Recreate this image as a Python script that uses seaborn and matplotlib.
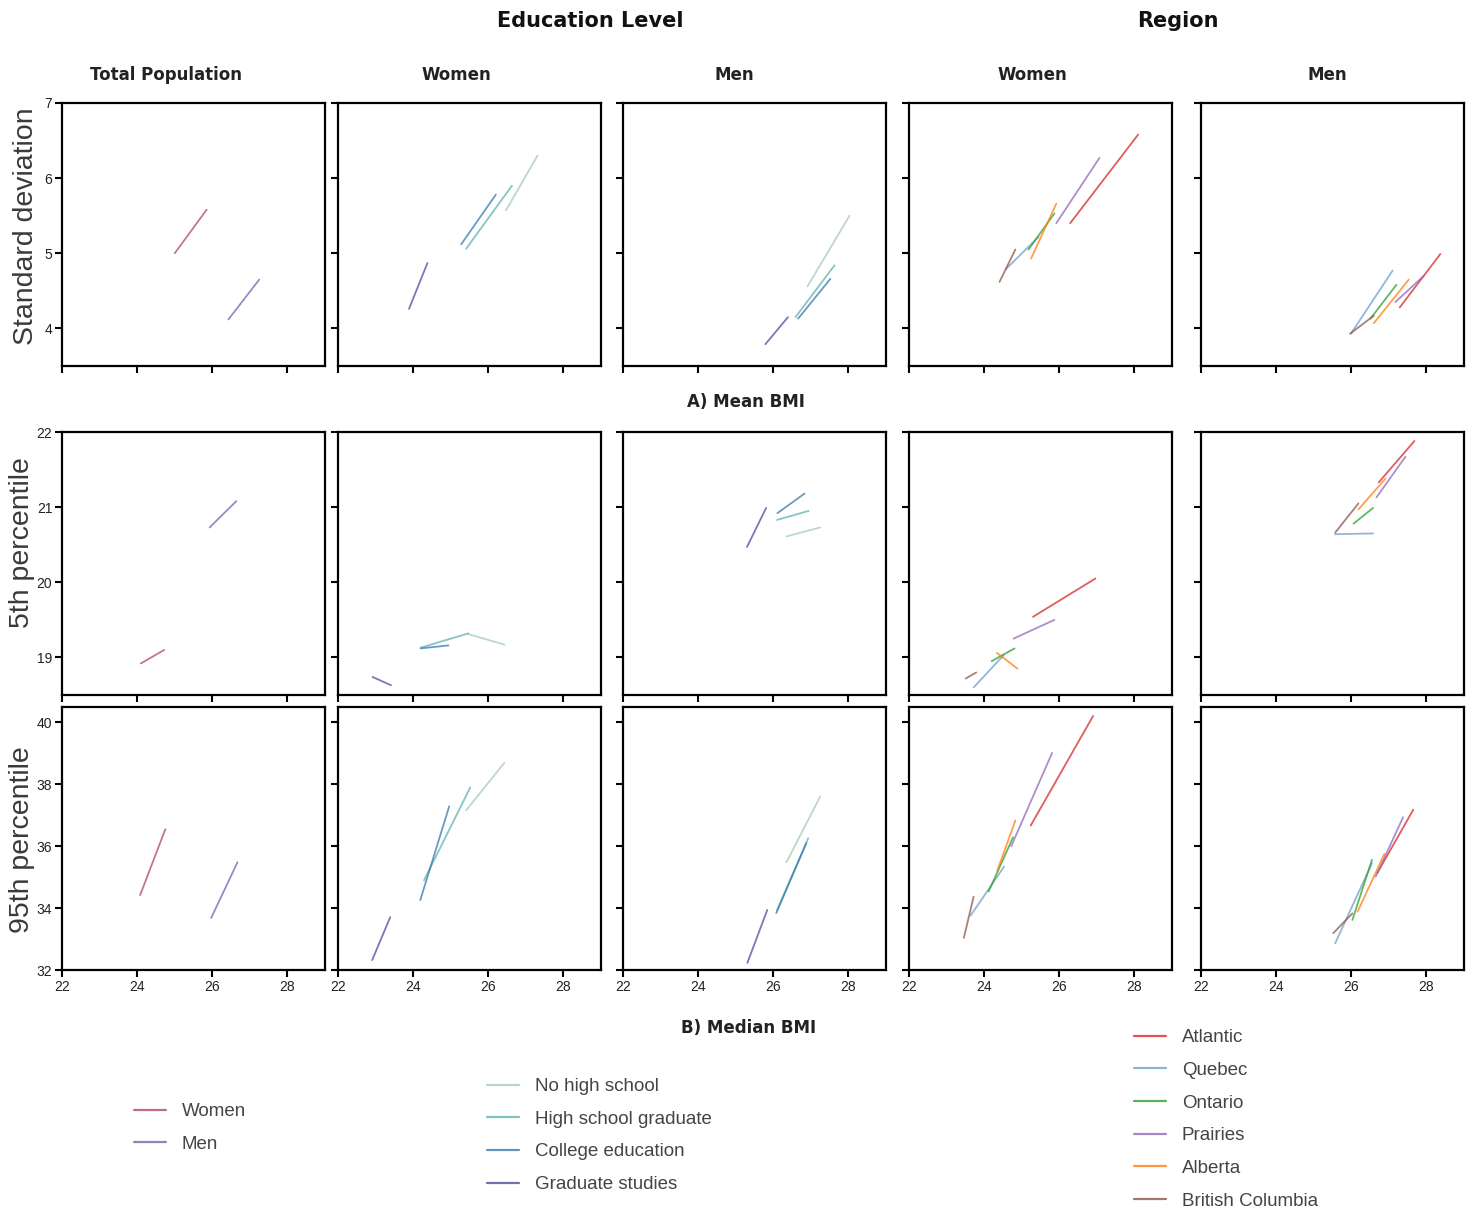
import pandas as pd
import matplotlib
matplotlib.use("Agg")
import matplotlib.pyplot as plt
from matplotlib.lines import Line2D
import seaborn as sns

# groups and colours
total_groups = ["Women", "Men"]
edu_groups = ["No high school", "High school graduate", "College education", "Graduate studies"]
region_groups = ["Atlantic", "Quebec", "Ontario", "Prairies", "Alberta", "British Columbia"]

total_colors = ["#b0476a", "#6b68b3"]
edu_colors = ["#a6cbb8", "#5fb1b2", "#3a78ad", "#4b4c9c"]
region_colors = ["#d62728", "#6f9fcb", "#2ca02c", "#9467bd", "#ff7f0e", "#8c564b"]

# each group: [start, end] of its segment, groups in the order above
# row 1: standard deviation vs mean BMI
sd_total_x = [[25.00, 25.85], [26.43, 27.25]]
sd_total_y = [[5.00, 5.58], [4.12, 4.65]]
sd_women_edu_x = [[26.47, 27.31], [25.41, 26.63], [25.28, 26.20], [23.89, 24.38]]
sd_women_edu_y = [[5.57, 6.30], [5.06, 5.90], [5.12, 5.78], [4.26, 4.87]]
sd_men_edu_x = [[26.91, 28.03], [26.59, 27.63], [26.66, 27.52], [25.79, 26.39]]
sd_men_edu_y = [[4.56, 5.50], [4.15, 4.84], [4.13, 4.66], [3.79, 4.15]]
sd_women_reg_x = [[26.29, 28.10], [24.58, 25.45], [25.18, 25.87], [25.92, 27.07], [25.25, 25.92], [24.41, 24.83]]
sd_women_reg_y = [[5.40, 6.58], [4.79, 5.22], [5.05, 5.53], [5.40, 6.27], [4.93, 5.66], [4.62, 5.05]]
sd_men_reg_x = [[27.29, 28.37], [25.99, 27.10], [26.51, 27.20], [27.17, 27.93], [26.60, 27.53], [25.97, 26.60]]
sd_men_reg_y = [[4.28, 4.99], [3.93, 4.77], [4.13, 4.58], [4.35, 4.70], [4.07, 4.65], [3.93, 4.17]]

# row 2: 5th percentile vs median BMI
p5_total_x = [[24.10, 24.72], [25.93, 26.64]]
p5_total_y = [[18.92, 19.10], [20.73, 21.08]]
p5_women_edu_x = [[25.47, 26.43], [24.20, 25.47], [24.20, 24.94], [22.92, 23.41]]
p5_women_edu_y = [[19.31, 19.17], [19.13, 19.32], [19.12, 19.16], [18.74, 18.63]]
p5_men_edu_x = [[26.35, 27.25], [26.10, 26.94], [26.11, 26.83], [25.30, 25.81]]
p5_men_edu_y = [[20.61, 20.73], [20.83, 20.95], [20.92, 21.18], [20.47, 20.99]]
p5_women_reg_x = [[25.30, 26.96], [23.72, 24.52], [24.20, 24.81], [24.78, 25.87], [24.34, 24.89], [23.51, 23.79]]
p5_women_reg_y = [[19.54, 20.05], [18.60, 19.03], [18.95, 19.12], [19.25, 19.50], [19.06, 18.85], [18.72, 18.80]]
p5_men_reg_x = [[26.73, 27.68], [25.57, 26.58], [26.06, 26.58], [26.67, 27.44], [26.19, 26.91], [25.57, 26.19]]
p5_men_reg_y = [[21.33, 21.88], [20.64, 20.65], [20.78, 20.99], [21.13, 21.67], [20.97, 21.38], [20.66, 21.05]]

# row 3: 95th percentile vs median BMI
p95_total_x = [[24.08, 24.75], [25.97, 26.67]]
p95_total_y = [[34.42, 36.55], [33.68, 35.48]]
p95_women_edu_x = [[25.41, 26.43], [24.29, 25.52], [24.19, 24.96], [22.91, 23.39]]
p95_women_edu_y = [[37.16, 38.70], [34.90, 37.90], [34.26, 37.29], [32.32, 33.71]]
p95_men_edu_x = [[26.35, 27.25], [26.10, 26.93], [26.08, 26.88], [25.31, 25.84]]
p95_men_edu_y = [[35.48, 37.61], [33.94, 36.26], [33.84, 36.10], [32.23, 33.94]]
p95_women_reg_x = [[25.24, 26.90], [23.64, 24.53], [24.12, 24.77], [24.72, 25.81], [24.35, 24.83], [23.46, 23.72]]
p95_women_reg_y = [[36.67, 40.21], [33.76, 35.34], [34.54, 36.29], [36.00, 39.02], [35.21, 36.83], [33.04, 34.37]]
p95_men_reg_x = [[26.69, 27.65], [25.57, 26.55], [26.03, 26.55], [26.65, 27.38], [26.17, 26.88], [25.52, 26.03]]
p95_men_reg_y = [[35.13, 37.18], [32.86, 35.45], [33.62, 35.56], [35.02, 36.94], [33.89, 35.75], [33.19, 33.83]]

row_labels = ["Standard deviation", "5th percentile", "95th percentile"]
row_ylims = [(3.5, 7), (18.5, 22), (32, 40.5)]
row_yticks = [[4, 5, 6, 7], [19, 20, 21, 22], [32, 34, 36, 38, 40]]
col_titles = ["Total Population", "Women", "Men", "Women", "Men"]

panels = [
    [(sd_total_x, sd_total_y), (sd_women_edu_x, sd_women_edu_y), (sd_men_edu_x, sd_men_edu_y),
     (sd_women_reg_x, sd_women_reg_y), (sd_men_reg_x, sd_men_reg_y)],
    [(p5_total_x, p5_total_y), (p5_women_edu_x, p5_women_edu_y), (p5_men_edu_x, p5_men_edu_y),
     (p5_women_reg_x, p5_women_reg_y), (p5_men_reg_x, p5_men_reg_y)],
    [(p95_total_x, p95_total_y), (p95_women_edu_x, p95_women_edu_y), (p95_men_edu_x, p95_men_edu_y),
     (p95_women_reg_x, p95_women_reg_y), (p95_men_reg_x, p95_men_reg_y)],
]
col_groups = [total_groups, edu_groups, edu_groups, region_groups, region_groups]
col_colors = [total_colors, edu_colors, edu_colors, region_colors, region_colors]

sns.set_style("ticks")
plt.rcParams['font.family'] = ['Liberation Sans', 'DejaVu Sans']

W, H = 1473, 1209
fig = plt.figure(figsize=(W / 100, H / 100), dpi=100)


def fx(x):
    return x / W


def fy(y):
    return 1 - y / H


col_left = [62, 338, 623, 909, 1201]
row_top = [103, 432, 707]
size = 263

for r in range(3):
    for c in range(5):
        ax = fig.add_axes([fx(col_left[c]), fy(row_top[r] + size), size / W, size / H])
        xs, ys = panels[r][c]
        groups = col_groups[c]
        rows = []
        for g, xx, yy in zip(groups, xs, ys):
            for a, b in zip(xx, yy):
                rows.append({"group": g, "x": a, "y": b})
        df = pd.DataFrame(rows)
        sns.lineplot(data=df, x="x", y="y", hue="group", hue_order=groups,
                     palette=col_colors[c], estimator=None, sort=False,
                     legend=False, ax=ax, lw=1.3, alpha=0.75)
        ax.set_xlim(22, 29)
        ax.set_ylim(*row_ylims[r])
        ax.set_xticks([22, 24, 26, 28])
        ax.set_yticks(row_yticks[r])
        ax.set_xlabel("")
        ax.set_ylabel("")
        for s in ax.spines.values():
            s.set_visible(True)
            s.set_linewidth(1.6)
            s.set_color("black")
        ax.tick_params(direction="out", length=5, width=1.5, colors="black",
                       labelsize=10, labelcolor="#222222", pad=2)
        if r < 2:
            ax.set_xticklabels([])
        if c > 0:
            ax.set_yticklabels([])

# headings
fig.text(fx(590), fy(21), "Education Level", ha="center", va="center",
         fontsize=15, fontweight="bold", family="DejaVu Sans", color="#111111")
fig.text(fx(1178), fy(21), "Region", ha="center", va="center",
         fontsize=15, fontweight="bold", family="DejaVu Sans", color="#111111")
title_x = [166, 456, 734, 1032, 1327]
for x, t in zip(title_x, col_titles):
    fig.text(fx(x), fy(75), t, ha="center", va="center", fontsize=12,
             fontweight="bold", family="DejaVu Sans", color="#222222")

label_pos = [(26, 226), (22, 543), (22, 840)]
for (x, y), t in zip(label_pos, row_labels):
    fig.text(fx(x), fy(y), t, rotation=90, ha="center", va="center",
             fontsize=20.5, color="#3a3a3a")

fig.text(fx(746), fy(402), "A) Mean BMI", ha="center", va="center",
         fontsize=12, fontweight="bold", family="DejaVu Sans", color="#222222")
fig.text(fx(749), fy(1028), "B) Median BMI", ha="center", va="center",
         fontsize=12, fontweight="bold", family="DejaVu Sans", color="#222222")


def add_legend(labels, colors, x, y):
    handles = [Line2D([0], [0], color=col, lw=1.6, alpha=0.8) for col in colors]
    fig.legend(handles, labels, loc="upper left", bbox_to_anchor=(fx(x), fy(y)),
               frameon=False, fontsize=13.5, labelcolor="#444444", borderpad=0,
               borderaxespad=0, handlelength=1.7, handletextpad=0.85,
               labelspacing=0.83)


add_legend(total_groups, total_colors, 134, 1103)
add_legend(edu_groups, edu_colors, 487, 1078)
add_legend(region_groups, region_colors, 1134, 1029)

fig.savefig("out.png", dpi=100)
